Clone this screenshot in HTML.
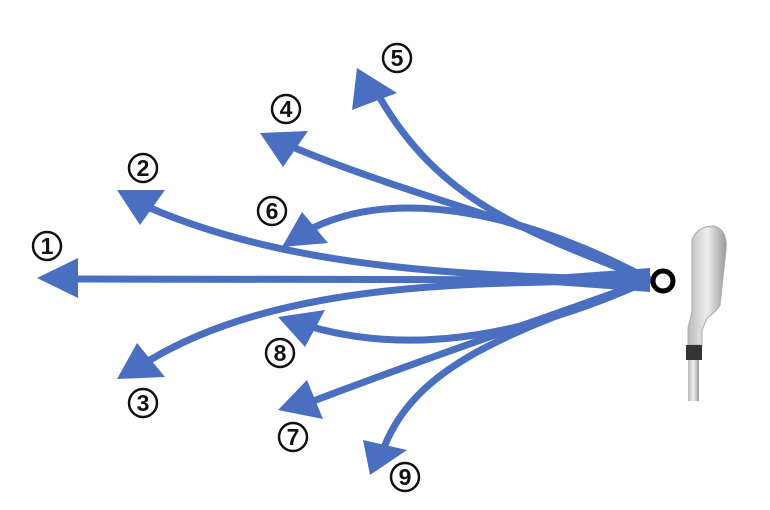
<!DOCTYPE html>
<html><head><style>
html,body{margin:0;padding:0;background:#fff;}
svg{display:block;}
text{font-family:"Liberation Sans",sans-serif;font-weight:bold;font-size:23px;fill:#111;}
</style></head><body>
<svg width="770" height="510" viewBox="0 0 770 510">
<g fill="none" stroke="#4a6fc1" stroke-width="7" stroke-linecap="round">
<path d="M650 280 L75 279"/>
<path d="M650 280 C480 276 300 272 150 208"/>
<path d="M650 280 C500 284 290 276 150 360"/>
<path d="M650 280 C560 230 420 200 295 148"/>
<path d="M650 280 C520 230 440 200 380 98"/>
<path d="M650 280 C540 220 400 180 305 232"/>
<path d="M650 280 C540 330 420 360 305 325"/>
<path d="M650 280 C540 320 420 360 303 405"/>
<path d="M650 280 C520 330 420 360 385 445"/>
</g>
<path d="M650 268 L650 292 L540 284 L540 276Z" fill="#4a6fc1"/>
<g fill="#4a6fc1">
<polygon points="37,278 78,258 78,298"/>
<polygon points="117,190 165,190 140,225"/>
<polygon points="117,379 165,377 137,343"/>
<polygon points="260,133 308,131 283,167"/>
<polygon points="357,68 397,93 352,110"/>
<polygon points="302,212 328,243 282,247"/>
<polygon points="278,317 325,310 305,347"/>
<polygon points="278,410 323,419 307,380"/>
<polygon points="370,475 363,440 407,450"/>
</g>
<circle cx="663" cy="281" r="10" fill="#fff" stroke="#000" stroke-width="5"/>
<defs><linearGradient id="g" x1="0" x2="1"><stop offset="0" stop-color="#bbb"/><stop offset="0.5" stop-color="#eee"/><stop offset="1" stop-color="#999"/></linearGradient></defs>
<path d="M692 240 Q697 226 714 226 Q728 230 726 250 L720 305 Q716 312 707 318 L702 330 L702 345 L688 345 L688 328 Q690 320 692 312 Z" fill="url(#g)" stroke="#aaa" stroke-width="1"/>
<rect x="686" y="345" width="16" height="15" fill="#333"/>
<rect x="688" y="360" width="11" height="41" fill="url(#g)"/>
<g fill="#fff" stroke="#111" stroke-width="2.5">
<circle cx="47" cy="246" r="14"/><circle cx="143" cy="168" r="14"/><circle cx="143" cy="403" r="14"/>
<circle cx="286" cy="109" r="14"/><circle cx="397" cy="58" r="14"/><circle cx="272" cy="211" r="14"/>
<circle cx="293" cy="437" r="14"/><circle cx="280" cy="353" r="14"/><circle cx="405" cy="477" r="14"/>
</g>
<g text-anchor="middle">
<text x="47" y="254">1</text><text x="143" y="176">2</text><text x="143" y="411">3</text>
<text x="286" y="117">4</text><text x="397" y="66">5</text><text x="272" y="219">6</text>
<text x="293" y="445">7</text><text x="280" y="361">8</text><text x="405" y="485">9</text>
</g>
</svg>
</body></html>
